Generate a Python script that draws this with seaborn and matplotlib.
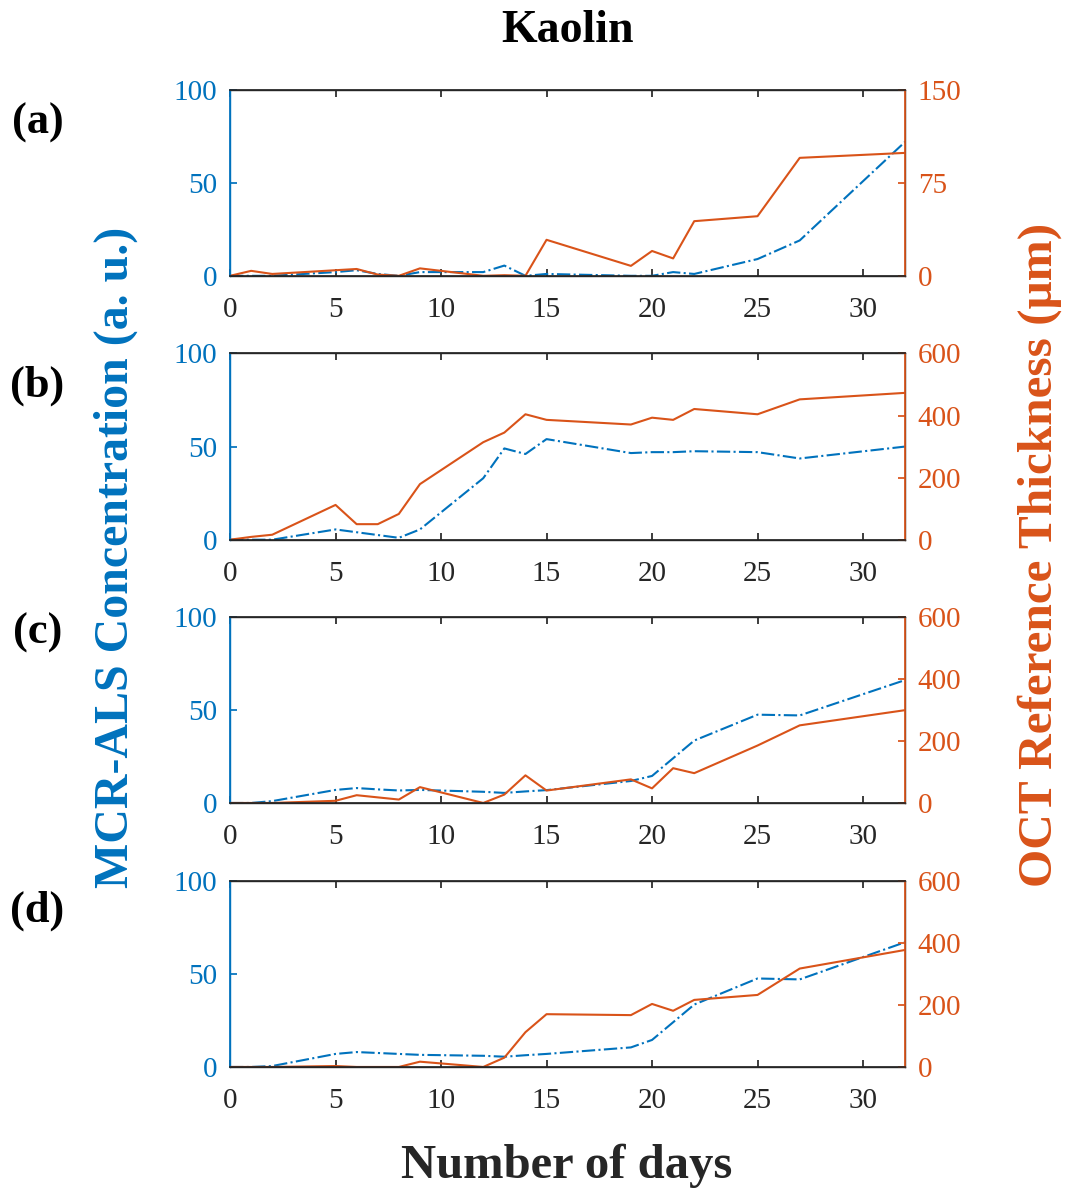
import matplotlib
matplotlib.use("Agg")
import matplotlib.pyplot as plt
import seaborn as sns

sns.set_theme(style="white")
plt.rcParams['font.family'] = ['Liberation Serif', 'DejaVu Serif']

days = [0, 1, 2, 5, 6, 7, 8, 9, 12, 13, 14, 15, 19, 20, 21, 22, 25, 27, 32]

# MCR-ALS concentration (left axis, dash-dot)
mcr_a = [0, 0, 0, 2, 3, 1, 0, 2, 2, 5.5, 0, 1, 0, 0, 2, 1, 9, 19, 72]
mcr_b = [0, 0, 0, 5.5, 4, 2.5, 1, 5.5, 33, 49, 46, 54, 46.5, 47, 47, 47.5, 47, 43.6, 50]
mcr_c = [0, 0, 1, 7, 8, 7.3, 6.7, 7, 6, 5.4, 6.2, 6.9, 11.8, 14.5, 24, 33.5, 47.4, 47, 66]
mcr_d = [0, 0, 0.5, 7, 8, 7.5, 7, 6.5, 6, 5.5, 6.3, 7, 10.5, 14.5, 24, 33.5, 47.5, 47, 67]

# OCT reference thickness (right axis, solid)
oct_a = [0, 4, 1.5, 4.5, 5.5, 1, 0, 6, 0, 0.5, 0, 29, 8, 20, 14, 44, 48, 95, 99]
oct_b = [0, 9, 16, 112, 50, 50, 83, 179, 314, 345, 404, 386, 371, 393, 386, 421, 404, 452, 473]
oct_c = [0, 0, 0, 7, 25, 18, 11, 51, 0, 27, 89, 40, 76, 47, 112, 96, 185, 250, 299]
oct_d = [0, 0, 0, 3, 0, 0, 0, 17, 0, 30, 112, 170, 167, 203, 181, 216, 232, 317, 377]

panel_labels = ["(a)", "(b)", "(c)", "(d)"]
right_max = [150, 600, 600, 600]
right_ticks = [[0, 75, 150], [0, 200, 400, 600], [0, 200, 400, 600], [0, 200, 400, 600]]

blue = "#0072BD"
orange = "#D95319"
dark = "#262626"

fig = plt.figure(figsize=(10.7, 11.94), dpi=100)

bottoms = [0.769, 0.548, 0.3275, 0.1064]
label_y = [0.897, 0.677, 0.470, 0.237]
mcr = [mcr_a, mcr_b, mcr_c, mcr_d]
octs = [oct_a, oct_b, oct_c, oct_d]

for i in range(4):
    ax = fig.add_axes([0.215, bottoms[i], 0.631, 0.156])
    sns.lineplot(x=days, y=mcr[i], ax=ax, color=blue, linestyle="-.", linewidth=1.5)
    ax.set_xlim(0, 32)
    ax.set_ylim(0, 100)
    ax.set_xticks([0, 5, 10, 15, 20, 25, 30])
    ax.set_yticks([0, 50, 100])
    ax.tick_params(axis="x", direction="in", length=5, labelsize=21, colors=dark, pad=15,
                   top=True, bottom=True)
    ax.tick_params(axis="y", direction="in", length=5, labelsize=21, colors=blue, pad=9)
    ax.spines["left"].set_color(blue)
    ax.spines["top"].set_color(dark)
    ax.spines["bottom"].set_color(dark)
    for s in ax.spines.values():
        s.set_linewidth(1.0)

    ax2 = ax.twinx()
    sns.lineplot(x=days, y=octs[i], ax=ax2, color=orange, linestyle="-", linewidth=1.5)
    ax2.set_ylim(0, right_max[i])
    ax2.set_yticks(right_ticks[i])
    ax2.tick_params(axis="y", direction="in", length=5, labelsize=21, colors=orange, pad=9)
    ax2.spines["right"].set_color(orange)
    ax2.spines["left"].set_color(blue)
    ax2.spines["top"].set_color(dark)
    ax2.spines["bottom"].set_color(dark)
    ax2.set_ylabel("")
    ax.set_ylabel("")
    ax.grid(False)
    ax2.grid(False)

    fig.text(0.035, label_y[i], panel_labels[i], fontsize=32, fontweight="bold",
             color="black", ha="center", va="center")

fig.text(0.53, 0.974, "Kaolin", fontsize=33, fontweight="bold", color="black",
         ha="center", va="center")
fig.text(0.53, 0.024, "Number of days", fontsize=35, fontweight="bold", color=dark,
         ha="center", va="center")
fig.text(0.108, 0.533, "MCR-ALS Concentration (a. u.)", fontsize=34.5, fontweight="bold",
         color=blue, rotation=90, ha="center", va="center")
fig.text(0.972, 0.535, "OCT Reference Thickness (\u03bcm)", fontsize=35.5, fontweight="bold",
         color=orange, rotation=90, ha="center", va="center")

fig.savefig("out.png", dpi=100)
